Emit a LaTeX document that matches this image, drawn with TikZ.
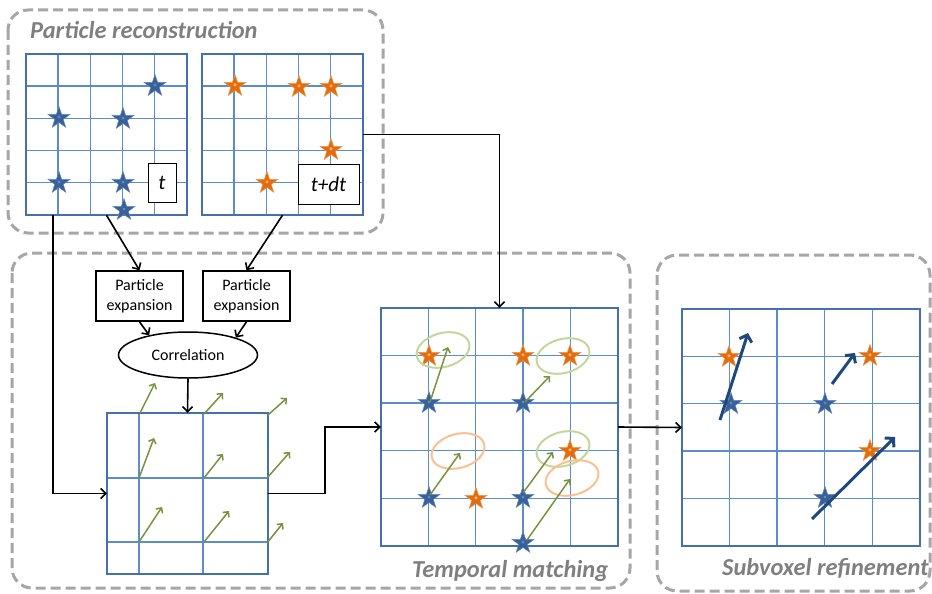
\documentclass[tikz,border=0pt]{standalone}
\usepackage{fontspec}
\setmainfont{Carlito}
\usetikzlibrary{shapes.geometric,arrows.meta,calc}
\definecolor{gborder}{HTML}{4470AC}
\definecolor{gline}{HTML}{5C8DCB}
\definecolor{dashgray}{HTML}{A6A6A6}
\definecolor{titlegray}{HTML}{7F7F7F}
\definecolor{starblue}{HTML}{3A6098}
\definecolor{starbluelight}{HTML}{5F89C2}
\definecolor{starorange}{HTML}{E46C0A}
\definecolor{starorangelight}{HTML}{F4B27A}
\definecolor{vecgreen}{HTML}{77933C}
\definecolor{ellgreen}{HTML}{C3D69B}
\definecolor{ellorange}{HTML}{FAC090}
\definecolor{darkarrow}{HTML}{1F497D}
\begin{document}
\begin{tikzpicture}[x=1pt,y=-1pt,
  container/.style={draw=dashgray, line width=3pt, dash pattern=on 10pt off 5pt, rounded corners=20pt},
  titletext/.style={font=\fontsize{24.4}{28}\selectfont\bfseries\itshape, text=titlegray, inner sep=0pt, anchor=base west},
  gridbox/.style={inner sep=0pt, minimum width=#1, minimum height=#1},
  gridborder/.style={draw=gborder, line width=2.2pt},
  gridline/.style={draw=gline, line width=1.4pt},
  bstar/.style={star, star points=5, star point ratio=2.55, minimum size=23pt, inner sep=0pt,
     fill=starblue, draw=starbluelight, line width=0.5pt,
     path picture={\fill[starbluelight] (path picture bounding box.center) circle (1.6pt);}},
  ostar/.style={star, star points=5, star point ratio=2.55, minimum size=23pt, inner sep=0pt,
     fill=starorange, draw=starorange!70!white, line width=0.5pt,
     path picture={\fill[starorangelight] (path picture bounding box.center) circle (1.8pt);}},
  labelbox/.style={draw=black, line width=0.9pt, fill=white, inner sep=0pt, font=\fontsize{21}{25}\selectfont\itshape},
  procbox/.style={draw=black, line width=1.5pt, inner sep=0pt, minimum width=87pt, minimum height=50pt, align=center, font=\fontsize{16}{19.5}\selectfont},
  conn/.style={draw=black, line width=1.6pt, -{Straight Barb[length=5pt,width=10pt]}},
  vec/.style={draw=vecgreen, line width=1.5pt, -{Straight Barb[length=4pt,width=8pt]}},
  bigvec/.style={draw=darkarrow, line width=3pt, -{Straight Barb[length=6pt,width=13pt]}},
  ring/.style={line width=2pt}
]
\useasboundingbox (0,0) rectangle (932,594);

% containers
\draw[container] (8,10) rectangle (383,233);
\draw[container] (12,253) rectangle (630,588);
\draw[container] (657,255) rectangle (930,591);

\node[titletext] (tpr) at (30,39) {Particle reconstruction};
\node[titletext] (ttm) at (412,577) {Temporal matching};
\node[titletext] (tsr) at (722,575) {Subvoxel refinement};

% grid 1 (t)
\node[gridbox=161pt] (g1) at (106.5,134.5) {};
\foreach \i in {1,...,4} {
  \draw[gridline] ($(g1.north west)+(\i*32.2,0)$) -- ($(g1.south west)+(\i*32.2,0)$);
  \draw[gridline] ($(g1.north west)+(0,\i*32.2)$) -- ($(g1.north east)+(0,\i*32.2)$);
}
\draw[gridborder] (g1.north west) rectangle (g1.south east);
\node[labelbox, minimum width=28pt, minimum height=39pt] (lt) at (162,182.5) {t};
\node[bstar] (a1) at (155,86) {};
\node[bstar] (a2) at (59,118) {};
\node[bstar] (a3) at (123,119) {};
\node[bstar] (a4) at (59,183) {};
\node[bstar] (a5) at (123,183) {};
\node[bstar] (a6) at (124,210) {};

% grid 2 (t+dt)
\node[gridbox=161pt] (g2) at (282.5,134.5) {};
\foreach \i in {1,...,4} {
  \draw[gridline] ($(g2.north west)+(\i*32.2,0)$) -- ($(g2.south west)+(\i*32.2,0)$);
  \draw[gridline] ($(g2.north west)+(0,\i*32.2)$) -- ($(g2.north east)+(0,\i*32.2)$);
}
\draw[gridborder] (g2.north west) rectangle (g2.south east);
\node[labelbox, minimum width=61pt, minimum height=40pt] (ltdt) at (328.5,184) {t+dt};
\node[ostar] (b1) at (235,86) {};
\node[ostar] (b2) at (299,87) {};
\node[ostar] (b3) at (331,87) {};
\node[ostar] (b4) at (331,150) {};
\node[ostar] (b5) at (267,183) {};

% processing
\node[procbox] (pe1) at (139.5,296) {Particle\\expansion};
\node[procbox] (pe2) at (246.5,296) {Particle\\expansion};
\node[ellipse, draw=black, line width=1.5pt, minimum width=139pt, minimum height=46pt, inner sep=0pt, font=\fontsize{16}{19}\selectfont] (corr) at (188,355) {Correlation};

% grid 3 (vector field)
\node[gridbox=161pt] (g3) at (187.5,493.5) {};
\draw[gridline] ($(g3.north west)+(32,0)$) -- ($(g3.south west)+(32,0)$);
\draw[gridline] ($(g3.north west)+(96,0)$) -- ($(g3.south west)+(96,0)$);
\draw[gridline] ($(g3.north west)+(0,65)$) -- ($(g3.north east)+(0,65)$);
\draw[gridline] ($(g3.north west)+(0,129)$) -- ($(g3.north east)+(0,129)$);
\draw[gridborder] (g3.north west) rectangle (g3.south east);
\draw[vec] (140,413) -- (155,383);
\draw[vec] (204,414) -- (223,393);
\draw[vec] (268,415) -- (287,398);
\draw[vec] (139,478) -- (154,438);
\draw[vec] (204,478) -- (223,454);
\draw[vec] (267,478) -- (290,452);
\draw[vec] (139,542) -- (162,507);
\draw[vec] (204,542) -- (229,511);
\draw[vec] (267,543) -- (283,523);

% grid 4 (temporal matching)
\node[inner sep=0pt, minimum width=237pt, minimum height=238pt] (g4) at (499.5,427) {};
\foreach \i in {1,...,4} {
  \draw[gridline] ($(g4.north west)+(\i*47.4,0)$) -- ($(g4.south west)+(\i*47.4,0)$);
  \draw[gridline] ($(g4.north west)+(0,\i*47.6)$) -- ($(g4.north east)+(0,\i*47.6)$);
}
\draw[gridborder] (g4.north west) rectangle (g4.south east);
\node[ostar] (c1) at (429,356) {};
\node[ostar] (c2) at (523,356) {};
\node[ostar] (c3) at (570,356) {};
\node[bstar] (c4) at (429,403) {};
\node[bstar] (c5) at (523,403) {};
\node[ostar] (c6) at (570,451) {};
\node[bstar] (c7) at (429,498) {};
\node[ostar] (c8) at (476,499) {};
\node[bstar] (c9) at (523,498) {};
\node[bstar] (c10) at (523,543) {};
\draw[ring, draw=ellgreen, rotate around={15:(443,350)}] (443,350) ellipse [x radius=27pt, y radius=17pt];
\draw[ring, draw=ellgreen, rotate around={15:(563,356)}] (563,356) ellipse [x radius=27pt, y radius=17pt];
\draw[ring, draw=ellorange, rotate around={15:(458,451)}] (458,451) ellipse [x radius=27pt, y radius=17pt];
\draw[ring, draw=ellgreen, rotate around={15:(563,449)}] (563,449) ellipse [x radius=27pt, y radius=17pt];
\draw[ring, draw=ellorange, rotate around={15:(572,478)}] (572,478) ellipse [x radius=27pt, y radius=17pt];
\draw[vec] (430,402) -- (448,347);
\draw[vec] (525,402) -- (550,376);
\draw[vec] (430,495) -- (460,453);
\draw[vec] (523,493) -- (553,452);
\draw[vec] (527,540) -- (570,479);

% grid 5 (subvoxel refinement)
\node[inner sep=0pt, minimum width=238pt, minimum height=237pt] (g5) at (801,427.5) {};
\foreach \i in {1,...,4} {
  \draw[gridline] ($(g5.north west)+(\i*47.6,0)$) -- ($(g5.south west)+(\i*47.6,0)$);
  \draw[gridline] ($(g5.north west)+(0,\i*47.4)$) -- ($(g5.north east)+(0,\i*47.4)$);
}
\draw[gridborder] (g5.north west) rectangle (g5.south east);
\node[ostar] (d1) at (729,357) {};
\node[bstar] (d2) at (731,404) {};
\node[bstar] (d3) at (825,404) {};
\node[ostar] (d4) at (870,356) {};
\node[ostar] (d5) at (870,451) {};
\node[bstar] (d6) at (825,498) {};
\draw[bigvec] (720,420) -- (748,333);
\draw[bigvec] (832,384) -- (855,353);
\draw[bigvec] (812,519) -- (895,437);

% connectors
\draw[conn] (g1.south) -- (pe1.north);
\draw[conn] (g2.south) -- (pe2.north);
\draw[conn] (pe1.south) -- (corr.153);
\draw[conn] (pe2.south) -- (corr.20);
\draw[conn] (corr.south) -- (g3.north);
\draw[conn] ([xshift=27pt]g1.south west) |- (g3.west);
\draw[conn] (g3.east) -- ++(57,0) |- (g4.west);
\draw[conn] (g2.east) -| (g4.north);
\draw[conn] (g4.east) -- (g5.west);
\end{tikzpicture}
\end{document}
